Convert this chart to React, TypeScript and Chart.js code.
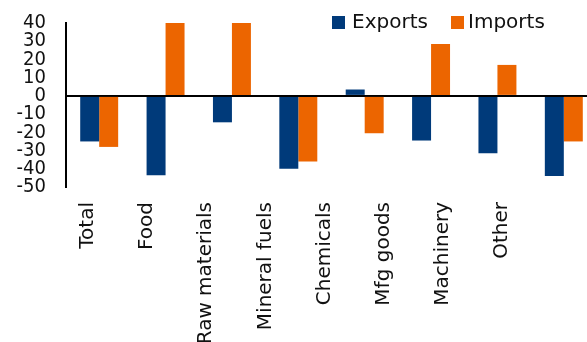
import React, { useEffect, useRef } from "react";
import { Chart, registerables } from "chart.js";

Chart.register(...registerables);

const categories = ["Total", "Food", "Raw materials", "Mineral fuels", "Chemicals", "Mfg goods", "Machinery", "Other"];
const exportsData = [-25, -43.5, -14.5, -40, 3.5, -24.5, -31.5, -44];
const importsData = [-28, 40, 40, -36, -20.5, 28.5, 17, -25];
const seriesNames = ["Exports", "Imports"];
const seriesColors = ["#003A7A", "#EC6500"];
const yMin = -50;
const yMax = 40;
const yStep = 10;

const legendPlugin = {
  id: "customLegend",
  afterDraw(chart: any) {
    const ctx = chart.ctx;
    ctx.save();
    const items = [
      { box: 332, text: 352 },
      { box: 451, text: 468 },
    ];
    ctx.font = "20px 'DejaVu Sans'";
    ctx.textBaseline = "middle";
    ctx.textAlign = "left";
    chart.data.datasets.forEach((ds: any, i: number) => {
      const it = items[i];
      ctx.fillStyle = ds.backgroundColor;
      ctx.fillRect(it.box, 16, 13, 13);
      ctx.fillStyle = "#111";
      ctx.fillText(ds.label, it.text, 23);
    });
    ctx.restore();
  },
};

export default function App() {
  const ref = useRef<HTMLCanvasElement>(null);
  useEffect(() => {
    if (!ref.current) return;
    const chart = new Chart(ref.current, {
      type: "bar",
      data: {
        labels: categories,
        datasets: [
          { label: seriesNames[0], data: exportsData, backgroundColor: seriesColors[0], xAxisID: "x" },
          { label: seriesNames[1], data: importsData, backgroundColor: seriesColors[1], xAxisID: "x" },
        ],
      },
      options: {
        responsive: false,
        animation: false,
        layout: { padding: { top: 23, left: 0, right: 0, bottom: 0 } },
        datasets: { bar: { categoryPercentage: 0.572, barPercentage: 1 } },
        plugins: { legend: { display: false }, tooltip: { enabled: false } },
        scales: {
          x: { type: "category", display: false, offset: true },
          x2: {
            type: "linear",
            position: "bottom",
            offset: false,
            min: -0.372,
            max: 8.607,
            grid: { display: false, drawTicks: false, offset: false },
            border: { display: false },
            afterBuildTicks: (scale: any) => {
              scale.ticks = categories.map((_, i) => ({ value: i }));
            },
            afterFit: (scale: any) => {
              scale.height = 213;
            },
            ticks: {
              autoSkip: false,
              maxRotation: 90,
              minRotation: 90,
              padding: 15,
              color: "#111",
              font: { family: "'DejaVu Sans'", size: 20 },
              callback: (v: any) => categories[Math.round(Number(v))],
            },
          },
          y: {
            min: yMin,
            max: yMax,
            ticks: {
              stepSize: yStep,
              autoSkip: false,
              padding: 20,
              color: "#111",
              font: { family: "'DejaVu Sans Condensed', 'DejaVu Sans'", size: 20 },
            },
            afterFit: (scale: any) => {
              scale.width = 66;
              scale.paddingTop = 0;
              scale.paddingBottom = 0;
            },
            grid: {
              drawTicks: false,
              lineWidth: 2,
              color: (c: any) => (c.tick && c.tick.value === 0 ? "#000" : "rgba(0,0,0,0)"),
            },
            border: { display: true, color: "#000", width: 2 },
          },
        },
      },
      plugins: [legendPlugin],
    });
    return () => chart.destroy();
  }, []);
  return (
    <div style={{ position: "fixed", left: 0, top: 0, width: 587, height: 342, overflow: "hidden", background: "#fff" }}>
      <canvas ref={ref} width={597} height={400} style={{ display: "block" }} />
    </div>
  );
}
